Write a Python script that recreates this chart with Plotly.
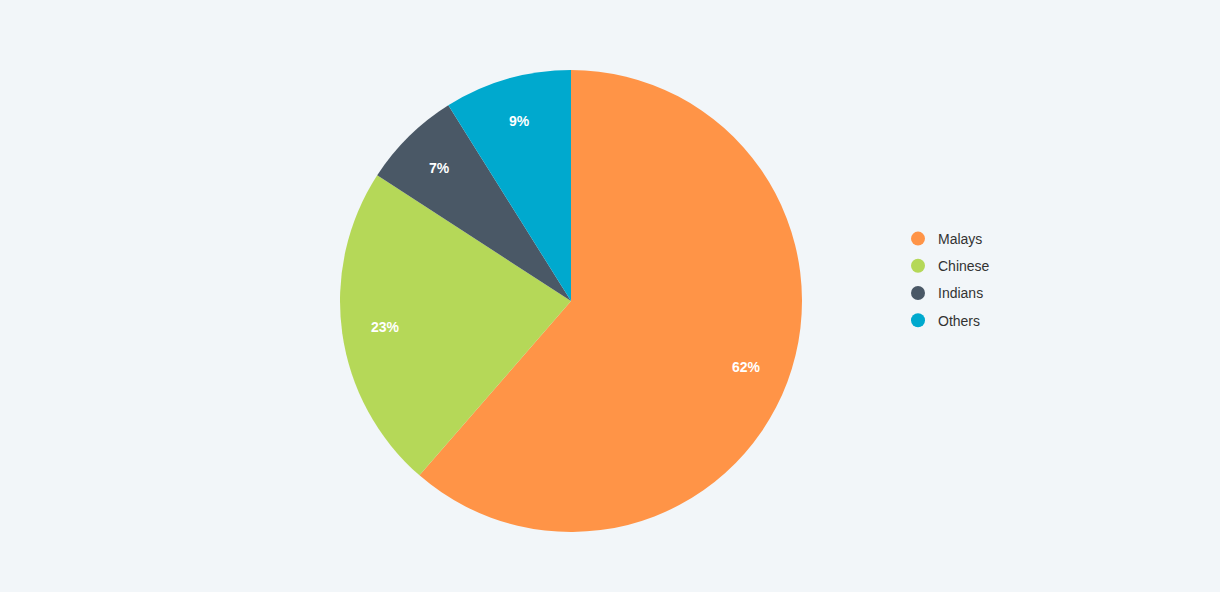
import math
import plotly.graph_objects as go

categories = ["Malays", "Chinese", "Indians", "Others"]
values = [62, 23, 7, 9]          # shown as "%" labels; slices are proportional to these
colors = ["#FF9447", "#B5D858", "#4A5866", "#00A9CE"]

W, H = 1220, 592
bg = "#F2F6F9"
FONT = "Liberation Sans, Arial, sans-serif"

# pie geometry (pixels)
cx, cy, R = 571, 301, 231

fig = go.Figure()
fig.add_trace(go.Pie(
    labels=categories,
    values=values,
    sort=False,
    direction="clockwise",
    rotation=0,
    marker=dict(colors=colors, line=dict(width=0)),
    textinfo="none",
    hovertemplate="%{label}: %{value}%<extra></extra>",
    showlegend=False,
    domain=dict(x=[(cx - R) / W, (cx + R) / W], y=[1 - (cy + R) / H, 1 - (cy - R) / H]),
))

# data labels placed at ~81% of the radius, at each slice's mid angle
total = sum(values)
cum = 0.0
for v in values:
    mid = (cum + v / 2) / total * 2 * math.pi
    cum += v
    px = cx + 0.81 * R * math.sin(mid)
    py = cy - 0.81 * R * math.cos(mid)
    fig.add_annotation(
        x=px / W, y=1 - py / H, xref="paper", yref="paper",
        xanchor="center", yanchor="middle",
        text=f"{v}%", showarrow=False,
        font=dict(family=FONT, size=14, color="white", weight="bold"),
    )

for name, col in zip(categories, colors):
    fig.add_trace(go.Scatter(
        x=[None], y=[None], mode="markers", name=name,
        legendgroup=name,
        marker=dict(symbol="circle", size=14, color=col),
    ))

fig.update_layout(
    width=W, height=H,
    paper_bgcolor=bg, plot_bgcolor=bg,
    margin=dict(l=0, r=0, t=0, b=0),
    xaxis=dict(visible=False), yaxis=dict(visible=False),
    showlegend=True,
    legend=dict(
        x=898 / W, y=1 - 279.5 / H, xanchor="left", yanchor="middle",
        bgcolor="rgba(0,0,0,0)",
        font=dict(family=FONT, size=14, color="#333333"),
        traceorder="grouped", tracegroupgap=6,
    ),
    font=dict(family=FONT),
)

fig.write_html("out.html", config={"displayModeBar": False},
               post_script="document.body.style.margin='0';")
